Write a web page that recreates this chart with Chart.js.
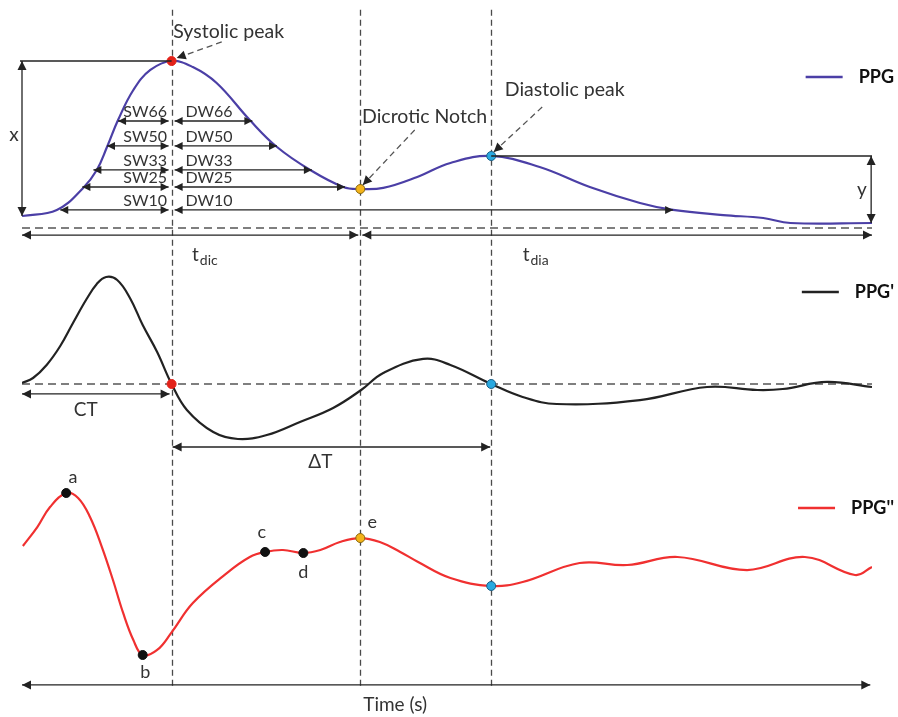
<!DOCTYPE html>
<html>
<head>
<meta charset="utf-8">
<script src="https://cdn.jsdelivr.net/npm/chart.js@4.4.1/dist/chart.umd.min.js"></script>
<style>
  html, body { margin: 0; padding: 0; background: #fff; }
  canvas { display: block; }
</style>
</head>
<body>
<canvas id="ppgChart" width="898" height="717"></canvas>
<script>
// time in ms, amplitudes normalised (PPG: 0 = foot, 1 = systolic peak)
const tSys = 176, tNotch = 398, tDia = 552;

const ppgTime   = [0, 41, 72, 88, 100, 113, 131, 151, 176, 201, 229, 268, 300, 339, 378, 398, 425, 465, 504, 552, 609, 668, 727, 766, 825, 872, 904, 1000];
const ppgValues = [0, 0.039, 0.181, 0.297, 0.445, 0.619, 0.813, 0.942, 1.0, 0.961, 0.858, 0.619, 0.445, 0.297, 0.187, 0.174, 0.181, 0.252, 0.342, 0.387, 0.316, 0.187, 0.084, 0.039, 0.006, -0.013, -0.045, -0.045];

const d1Time   = [0, 13, 29, 45, 60, 76, 88, 99, 112, 127, 142, 159, 176, 194, 225, 254, 288, 327, 366, 399, 425, 472, 504, 552, 589, 629, 727, 806, 865, 895, 947, 1000];
const d1Values = [0.009, 0.056, 0.178, 0.355, 0.57, 0.794, 0.935, 1.0, 0.972, 0.804, 0.551, 0.299, 0, -0.243, -0.449, -0.514, -0.477, -0.355, -0.224, -0.056, 0.103, 0.234, 0.178, 0, -0.121, -0.187, -0.15, -0.028, -0.056, -0.047, 0.019, -0.028];

const d2Time   = [1, 18, 33, 52, 66, 80, 94, 107, 119, 131, 142, 159, 176, 201, 241, 268, 286, 307, 331, 351, 374, 398, 421, 445, 466, 504, 552, 589, 656, 712, 771, 853, 921, 980, 1000];
const d2Values = [0.346, 0.58, 0.827, 1.0, 0.938, 0.704, 0.333, -0.074, -0.481, -0.815, -1.0, -0.938, -0.72, -0.358, 0.012, 0.21, 0.272, 0.296, 0.259, 0.296, 0.395, 0.444, 0.395, 0.272, 0.148, -0.049, -0.148, -0.099, 0.136, 0.111, 0.21, 0.049, 0.21, -0.012, 0.086];

// feature points (time -> marker colour)
const ppgMarks = { 176: '#E32219', 398: '#F4B41A', 552: '#2AA9E0' };
const d1Marks  = { 176: '#E32219', 552: '#2AA9E0' };
const d2Marks  = { 52: '#111', 142: '#111', 286: '#111', 331: '#111', 398: '#F4B41A', 552: '#2AA9E0' };
const d2Letters = ['a', 'b', 'c', 'd', 'e'];
const d2LetterTime  = [60, 145, 282, 331, 412];
const d2LetterValue = [1.198, -1.21, 0.519, 0.025, 0.642];

// pulse width levels
const widthLabels = ['66', '50', '33', '25', '10'];
const widthLevel  = [0.613, 0.452, 0.297, 0.187, 0.039];
const swStart     = [113, 100, 84, 71, 45];
const dwEnd       = [271, 300, 341, 380, 766];

const FONT = 'Lato, "Open Sans", sans-serif';

function band(vTop, pTop, vBot, pBot, H) {
  const ppu = (pBot - pTop) / (vTop - vBot);
  return { min: vBot - (H - pBot) / ppu, max: vTop + pTop / ppu };
}
const H = 717;
const bPPG = band(1, 61, 0, 216, H);
const bD1 = band(1, 277, 0, 384, H);
const bD2 = band(1, 493, 0, 574, H);

function pts(t, v) { return t.map((x, i) => ({ x: x, y: v[i] })); }
function markRadius(marks) { return ctx => (marks[ctx.raw.x] ? 4.5 : 0); }
function markColor(marks) { return ctx => marks[ctx.raw.x] || 'transparent'; }
function markBorder(marks) {
  return ctx => {
    const c = marks[ctx.raw.x];
    if (c === '#F4B41A') return '#8a6a10';
    if (c === '#2AA9E0') return '#1d5f86';
    return c || 'transparent';
  };
}

function arrowHead(ctx, x1, y1, x2, y2, size) {
  const a = Math.atan2(y2 - y1, x2 - x1);
  ctx.beginPath();
  ctx.moveTo(x2, y2);
  ctx.lineTo(x2 - size * Math.cos(a) + size * 0.5 * Math.sin(a), y2 - size * Math.sin(a) - size * 0.5 * Math.cos(a));
  ctx.lineTo(x2 - size * Math.cos(a) - size * 0.5 * Math.sin(a), y2 - size * Math.sin(a) + size * 0.5 * Math.cos(a));
  ctx.closePath();
  ctx.fill();
}
function arrow(ctx, x1, y1, x2, y2, both, size) {
  size = size || 9;
  ctx.beginPath();
  ctx.moveTo(x1, y1);
  ctx.lineTo(x2, y2);
  ctx.stroke();
  arrowHead(ctx, x1, y1, x2, y2, size);
  if (both) arrowHead(ctx, x2, y2, x1, y1, size);
}
function line(ctx, x1, y1, x2, y2) {
  ctx.beginPath();
  ctx.moveTo(x1, y1);
  ctx.lineTo(x2, y2);
  ctx.stroke();
}
function subText(ctx, main, sub, x, y) {
  ctx.textAlign = 'left';
  ctx.textBaseline = 'middle';
  ctx.font = '19px ' + FONT;
  ctx.fillText(main, x, y);
  const w = ctx.measureText(main).width;
  ctx.font = '14px ' + FONT;
  ctx.fillText(sub, x + w + 1, y + 5);
}

const overlay = {
  id: 'overlay',
  beforeDatasetsDraw(chart) {
    const { ctx, scales: { x, yPPG, yD1, yD2 } } = chart;
    ctx.save();
    ctx.strokeStyle = '#4a4a4a';
    ctx.lineWidth = 1.3;
    ctx.setLineDash([6, 4]);
    const top = yPPG.getPixelForValue(1.33), bot = yD2.getPixelForValue(-1.41);
    [tSys, tNotch, tDia].forEach(t => {
      const px = Math.round(x.getPixelForValue(t)) + 0.5;
      line(ctx, px, top, px, bot);
    });
    ctx.strokeStyle = '#555';
    ctx.lineWidth = 1.6;
    ctx.setLineDash([8, 5]);
    let py = yPPG.getPixelForValue(-0.077);
    line(ctx, x.getPixelForValue(0), py, x.getPixelForValue(1000), py);
    py = yD1.getPixelForValue(0);
    line(ctx, x.getPixelForValue(0), py, x.getPixelForValue(1000), py);
    ctx.restore();
  },
  afterDatasetsDraw(chart) {
    const { ctx, scales: { x, yPPG, yD1, yD2 } } = chart;
    const X = t => x.getPixelForValue(t);
    ctx.save();
    ctx.strokeStyle = '#222';
    ctx.fillStyle = '#222';
    ctx.lineWidth = 1.3;

    // amplitude x and y
    line(ctx, X(0) - 2, yPPG.getPixelForValue(1), X(tSys), yPPG.getPixelForValue(1));
    arrow(ctx, X(0), yPPG.getPixelForValue(1), X(0), yPPG.getPixelForValue(0), true);
    line(ctx, X(tDia), yPPG.getPixelForValue(0.387), X(1000), yPPG.getPixelForValue(0.387));
    arrow(ctx, X(999), yPPG.getPixelForValue(0.387), X(999), yPPG.getPixelForValue(-0.045), true);

    // pulse widths
    widthLabels.forEach((lab, i) => {
      const py = yPPG.getPixelForValue(widthLevel[i]);
      arrow(ctx, X(swStart[i]), py, X(tSys) - 3, py, true, 8);
      arrow(ctx, X(tSys) + 3, py, X(dwEnd[i]), py, true, 8);
      ctx.font = '16px ' + FONT;
      ctx.textAlign = 'center';
      ctx.textBaseline = 'middle';
      ctx.fillStyle = '#333';
      ctx.fillText('SW' + lab, X(145), py - 9);
      ctx.fillText('DW' + lab, X(220), py - 9);
      ctx.fillStyle = '#222';
    });

    // t_dic / t_dia
    let py = yPPG.getPixelForValue(-0.123);
    arrow(ctx, X(0), py, X(tNotch) - 2, py, true);
    arrow(ctx, X(tNotch) + 2, py, X(1000), py, true);

    // CT and delta T
    py = yD1.getPixelForValue(-0.093);
    arrow(ctx, X(0), py, X(tSys) - 2, py, true);
    py = yD1.getPixelForValue(-0.589);
    arrow(ctx, X(tSys) + 1, py, X(tDia) - 1, py, true);

    // time axis
    py = yD2.getPixelForValue(-1.37);
    arrow(ctx, X(0), py, X(998), py, true);

    // callouts
    ctx.setLineDash([6, 4]);
    ctx.strokeStyle = '#555';
    ctx.fillStyle = '#222';
    arrow(ctx, X(235), yPPG.getPixelForValue(1.123), X(182), yPPG.getPixelForValue(1.019), false, 9);
    arrow(ctx, X(462), yPPG.getPixelForValue(0.555), X(401), yPPG.getPixelForValue(0.2), false, 9);
    arrow(ctx, X(612), yPPG.getPixelForValue(0.703), X(555), yPPG.getPixelForValue(0.413), false, 9);
    ctx.setLineDash([]);

    // texts
    ctx.fillStyle = '#333';
    ctx.textBaseline = 'middle';
    ctx.textAlign = 'left';
    ctx.font = '19.5px ' + FONT;
    ctx.fillText('Systolic peak', X(178), yPPG.getPixelForValue(1.187));
    ctx.fillText('Dicrotic Notch', X(400), yPPG.getPixelForValue(0.639));
    ctx.fillText('Diastolic peak', X(568), yPPG.getPixelForValue(0.813));
    ctx.textAlign = 'center';
    ctx.font = '19px ' + FONT;
    ctx.fillText('x', X(-9.4), yPPG.getPixelForValue(0.523));
    ctx.fillText('y', X(988), yPPG.getPixelForValue(0.168));
    ctx.fillText('CT', X(75), yD1.getPixelForValue(-0.243));
    ctx.fillText('\u0394T', X(351), yD1.getPixelForValue(-0.729));
    ctx.fillText('Time (s)', X(439), yD2.getPixelForValue(-1.617));
    ctx.font = '18px ' + FONT;
    d2Letters.forEach((l, i) => ctx.fillText(l, X(d2LetterTime[i]), yD2.getPixelForValue(d2LetterValue[i])));
    subText(ctx, 't', 'dic', X(200), yPPG.getPixelForValue(-0.252));
    subText(ctx, 't', 'dia', X(589), yPPG.getPixelForValue(-0.252));

    // legends
    const legends = [
      { label: 'PPG', color: '#4B3FA6', py: 77 },
      { label: "PPG'", color: '#222', py: 292 },
      { label: "PPG''", color: '#F03030', py: 508 }
    ];
    ctx.font = 'bold 18px ' + FONT;
    ctx.textAlign = 'right';
    legends.forEach(l => {
      const right = chart.width - 4;
      const w = ctx.measureText(l.label).width;
      ctx.fillStyle = '#111';
      ctx.fillText(l.label, right, l.py);
      ctx.strokeStyle = l.color;
      ctx.lineWidth = 2.5;
      line(ctx, right - w - 53, l.py, right - w - 16, l.py);
    });
    ctx.restore();
  }
};

new Chart(document.getElementById('ppgChart'), {
  type: 'line',
  data: {
    datasets: [
      {
        label: 'PPG',
        data: pts(ppgTime, ppgValues),
        yAxisID: 'yPPG',
        borderColor: '#4B3FA6',
        borderWidth: 2.2,
        pointRadius: markRadius(ppgMarks),
        pointBackgroundColor: markColor(ppgMarks),
        pointBorderColor: markBorder(ppgMarks),
        pointBorderWidth: 1
      },
      {
        label: "PPG'",
        data: pts(d1Time, d1Values),
        yAxisID: 'yD1',
        borderColor: '#222',
        borderWidth: 2.2,
        pointRadius: markRadius(d1Marks),
        pointBackgroundColor: markColor(d1Marks),
        pointBorderColor: markBorder(d1Marks),
        pointBorderWidth: 1
      },
      {
        label: "PPG''",
        data: pts(d2Time, d2Values),
        yAxisID: 'yD2',
        borderColor: '#F03030',
        borderWidth: 2.2,
        pointRadius: markRadius(d2Marks),
        pointBackgroundColor: markColor(d2Marks),
        pointBorderColor: markBorder(d2Marks),
        pointBorderWidth: 1
      }
    ]
  },
  options: {
    responsive: false,
    animation: false,
    devicePixelRatio: 1,
    layout: { padding: { left: 22, right: 26, top: 0, bottom: 0 } },
    elements: { line: { tension: 0.4, fill: false } },
    scales: {
      x: { type: 'linear', min: 0, max: 1000, display: false },
      yPPG: { type: 'linear', min: bPPG.min, max: bPPG.max, display: false },
      yD1: { type: 'linear', min: bD1.min, max: bD1.max, display: false },
      yD2: { type: 'linear', min: bD2.min, max: bD2.max, display: false }
    },
    plugins: {
      legend: { display: false },
      tooltip: { enabled: false }
    }
  },
  plugins: [overlay]
});
</script>
</body>
</html>
